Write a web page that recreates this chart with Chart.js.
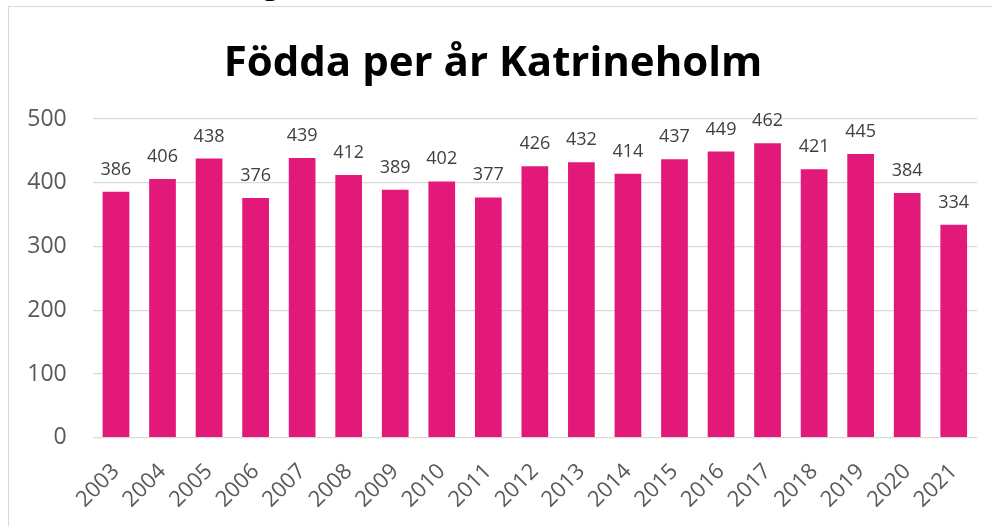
<!DOCTYPE html>
<html lang="sv">
<head>
<meta charset="utf-8">
<title>Födda per år Katrineholm</title>
<script src="https://cdn.jsdelivr.net/npm/chart.js@4.4.1/dist/chart.umd.min.js"></script>
<style>
    html, body { margin: 0; padding: 0; background: #fff; overflow: hidden; width: 992px; height: 526px; }
    .above { position: absolute; left: 262px; top: -41px; font: bold 32px "Open Sans", sans-serif; color: #000; }
    .frame {
        position: absolute; left: 8px; top: 6px; width: 997px; height: 530px;
        border-top: 1px solid #d9d9d9; border-left: 1px solid #d9d9d9;
    }
    .chart-box { position: relative; width: 997px; height: 519px; }
</style>
</head>
<body>
<div class="above">g</div>
<div class="frame">
    <div class="chart-box"><canvas id="birthsChart"></canvas></div>
</div>
<script>
// Data
const years = ['2003', '2004', '2005', '2006', '2007', '2008', '2009', '2010', '2011', '2012',
               '2013', '2014', '2015', '2016', '2017', '2018', '2019', '2020', '2021'];
const births = [386, 406, 438, 376, 439, 412, 389, 402, 377, 426,
                432, 414, 437, 449, 462, 421, 445, 384, 334];
const yTicks = [0, 100, 200, 300, 400, 500];

const barColor = '#E3197A';
const fontFamily = '"Open Sans", "Noto Sans", sans-serif';

// Simple value labels above each bar (no datalabels plugin available)
const valueLabels = {
    id: 'valueLabels',
    afterDatasetsDraw(chart) {
        const ctx = chart.ctx;
        const meta = chart.getDatasetMeta(0);
        ctx.save();
        ctx.font = '18px ' + fontFamily;
        ctx.fillStyle = '#404040';
        ctx.textAlign = 'center';
        ctx.textBaseline = 'alphabetic';
        meta.data.forEach((bar, i) => {
            ctx.fillText(String(births[i]), bar.x, bar.y - 17);
        });
        ctx.restore();
    }
};

new Chart(document.getElementById('birthsChart').getContext('2d'), {
    type: 'bar',
    data: {
        labels: years,
        datasets: [{
            label: 'Födda',
            data: births,
            backgroundColor: barColor,
            borderWidth: 0,
            categoryPercentage: 1,
            barPercentage: 0.574
        }]
    },
    options: {
        responsive: true,
        maintainAspectRatio: false,
        animation: false,
        layout: { padding: { left: 0, right: 29, top: 0, bottom: 0 } },
        plugins: {
            legend: { display: false },
            tooltip: { enabled: false },
            title: {
                display: true,
                text: 'Födda per år Katrineholm',
                color: '#000',
                font: { family: fontFamily, size: 42, weight: 'bold', lineHeight: 1.2 },
                padding: { top: 31.5, bottom: 30.1 }
            }
        },
        scales: {
            x: {
                grid: { display: false, drawTicks: false },
                border: { display: false },
                ticks: {
                    color: '#595959',
                    font: { family: fontFamily, size: 22 },
                    maxRotation: 45,
                    minRotation: 45,
                    padding: 21
                },
                afterFit(scale) { scale.height = 88.3; }
            },
            y: {
                min: 0,
                max: 500,
                afterBuildTicks(scale) { scale.ticks = yTicks.map(v => ({ value: v })); },
                grid: { color: '#d9d9d9', lineWidth: 1.3, drawTicks: false },
                border: { display: false },
                ticks: {
                    color: '#595959',
                    font: { family: fontFamily, size: 23 },
                    padding: 26
                },
                afterFit(scale) { scale.width = 83.7; }
            }
        }
    },
    plugins: [valueLabels]
});
</script>
</body>
</html>
